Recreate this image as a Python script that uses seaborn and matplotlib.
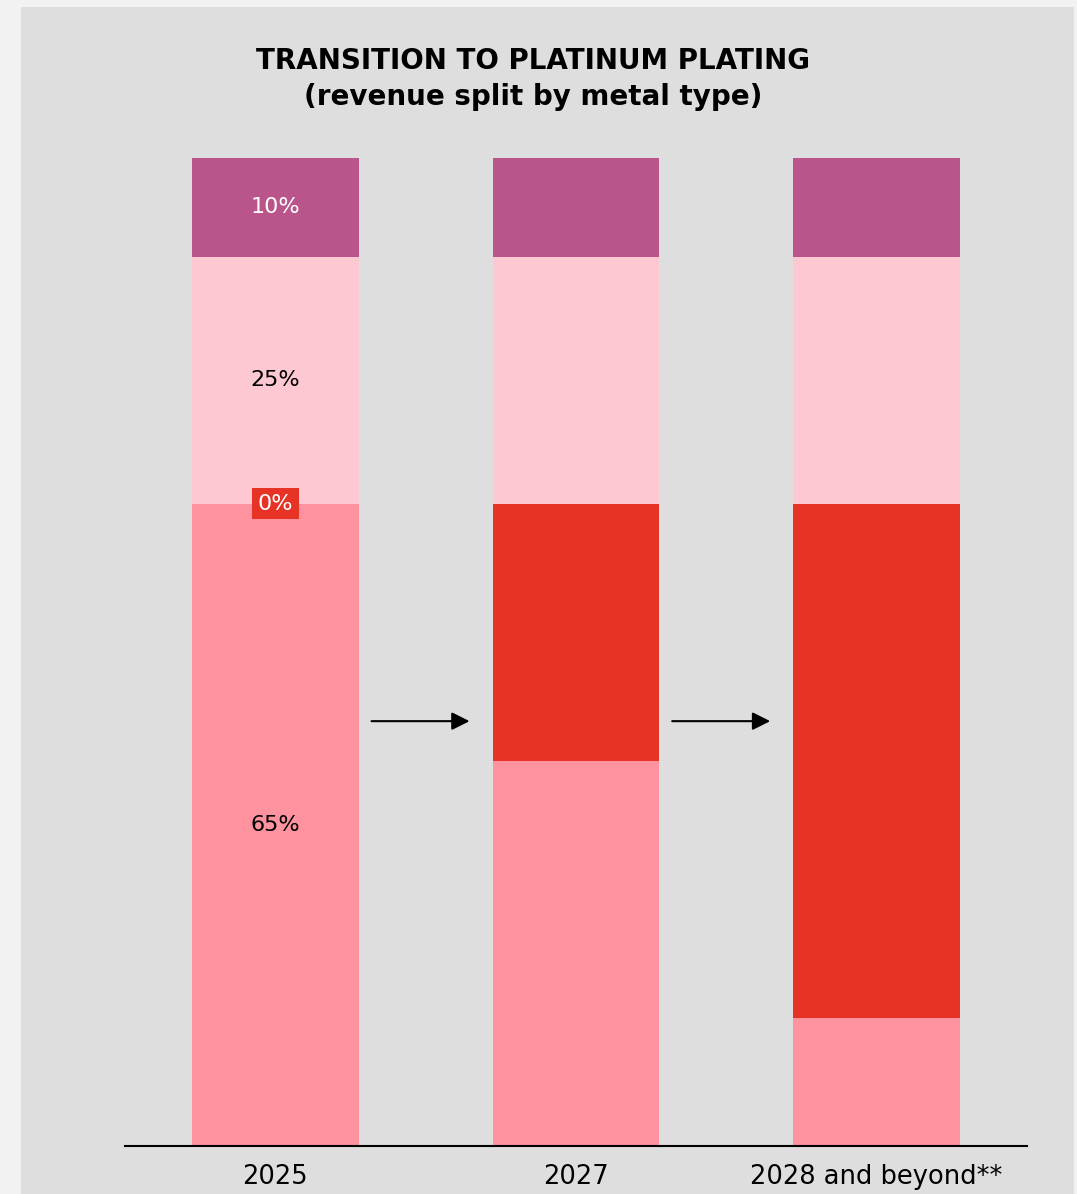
import matplotlib
matplotlib.use("Agg")
import matplotlib.pyplot as plt
from matplotlib.patches import Rectangle
import seaborn as sns
import numpy as np
import pandas as pd

# ---- data ----
years = ["2025", "2027", "2028 and beyond**"]
seg_pink = [65, 39, 13]        # bottom segment
seg_red = [0, 26, 52]          # platinum
seg_light = [25, 25, 25]
seg_purple = [10, 10, 10]
label_2025 = ["65%", "0%", "25%", "10%"]

colors = ["#ff929f", "#e73226", "#fec8d2", "#b9558a"]
segments = [seg_pink, seg_red, seg_light, seg_purple]

sns.set_theme(style="white")
plt.rcParams['font.family'] = ['DejaVu Sans']

fig = plt.figure(figsize=(10.77, 11.94), dpi=100, facecolor="#f2f2f2")
fig.patches.append(Rectangle((21/1077, 0), (1074-21)/1077, 1 - 7/1194,
                             transform=fig.transFigure, facecolor="#dedede",
                             edgecolor="none", zorder=-10))

ax = fig.add_axes([125/1077, 1 - 1146/1194, (1027-125)/1077, (1146-158)/1194])
ax.set_facecolor("none")
ax.set_zorder(2)

cum = np.cumsum(np.array(segments), axis=0)
# draw tallest first so that shorter cumulative bars overlay
for i in range(len(segments) - 1, -1, -1):
    df = pd.DataFrame({"year": years, "val": cum[i]})
    sns.barplot(data=df, x="year", y="val", color=colors[i], width=0.555,
                linewidth=0, saturation=1, ax=ax, zorder=2)

ax.set_xlim(-0.5, 2.5)
ax.set_ylim(0, 100)
ax.set_xlabel("")
ax.set_ylabel("")
ax.set_yticks([])
for s in ["top", "left", "right"]:
    ax.spines[s].set_visible(False)
ax.spines["bottom"].set_color("black")
ax.spines["bottom"].set_linewidth(1.5)
ax.spines["bottom"].set_zorder(5)
ax.tick_params(axis="x", length=0, pad=13, labelsize=18.5, labelcolor="black")

# labels on 2025 bar
mids = cum[:, 0] - np.array([s[0] for s in segments]) / 2
ax.text(0, mids[0], label_2025[0], ha="center", va="center", fontsize=16, color="black", zorder=6)
ax.text(0, cum[0, 0], label_2025[1], ha="center", va="center", fontsize=16, color="white", zorder=6,
        bbox=dict(boxstyle="square,pad=0.25", facecolor="#e73226", edgecolor="none"))
ax.text(0, mids[2], label_2025[2], ha="center", va="center", fontsize=16, color="black", zorder=6)
ax.text(0, mids[3], label_2025[3], ha="center", va="center", fontsize=16, color="white", zorder=6)

# arrows between bars
for x0 in [0, 1]:
    ax.annotate("", xy=(x0 + 0.646, 43), xytext=(x0 + 0.32, 43),
                arrowprops=dict(arrowstyle="-|>,head_length=0.9,head_width=0.45",
                                color="black", lw=1.5, shrinkA=0, shrinkB=0), zorder=6)

fig.text(533/1077, 1 - 61/1194, "TRANSITION TO PLATINUM PLATING", ha="center", va="center",
         fontsize=20, fontweight="bold", color="black")
fig.text(533/1077, 1 - 97/1194, "(revenue split by metal type)", ha="center", va="center",
         fontsize=20, fontweight="bold", color="black")

fig.savefig("out.png", dpi=100, facecolor=fig.get_facecolor())
